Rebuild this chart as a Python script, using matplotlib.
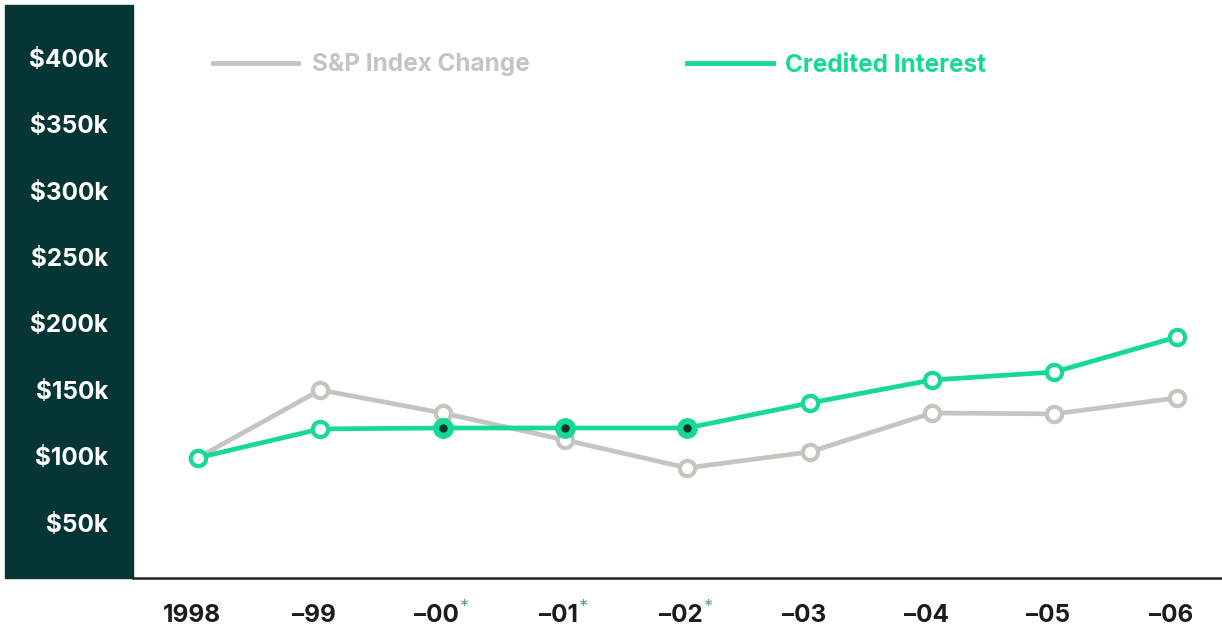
import matplotlib
matplotlib.use("Agg")
import matplotlib.pyplot as plt
from matplotlib.lines import Line2D
from matplotlib.patches import Rectangle
from matplotlib.transforms import ScaledTranslation

years = ["1998", "\u201399", "\u201300", "\u201301", "\u201302", "\u201303", "\u201304", "\u201305", "\u201306"]
starred = [False, False, True, True, True, False, False, False, False]
sp_index = [99, 150, 132.7, 112.4, 91.4, 103.4, 132.7, 132, 144]
credited = [99, 120.7, 121.4, 121.4, 121.4, 140.2, 157.5, 163.5, 189.8]
credited_flag = [False, False, True, True, True, False, False, False, False]
yticks = [50, 100, 150, 200, 250, 300, 350, 400]
ytick_labels = ["$50k", "$100k", "$150k", "$200k", "$250k", "$300k", "$350k", "$400k"]

GRAY = "#c5c5bf"
GREEN = "#16d994"
DARK = "#063536"
TXT = "#1c1c1c"
FONT = ["Inter", "DejaVu Sans"]
plt.rcParams['font.family'] = FONT
FS = 17.5

W, H = 1222, 628
fig = plt.figure(figsize=(W / 100, H / 100), dpi=100)

# dark panel
fig.add_artist(Rectangle((5 / W, 1 - 578 / H), 128 / W, 573 / H,
                         transform=fig.transFigure, color=DARK, zorder=0))

ax = fig.add_axes([133 / W, 1 - 578 / H, 1089 / W, 573 / H])
ax.set_facecolor("none")
x = list(range(len(years)))
ax.set_xlim(-0.53, 8.37)
ax.set_ylim(8.6, 439.5)

ax.plot(x, sp_index, color=GRAY, lw=3.4, marker="o", ms=11, mfc="white",
        mec=GRAY, mew=3, zorder=3, solid_joinstyle="round")
ax.plot(x, credited, color=GREEN, lw=3.4, zorder=4, solid_joinstyle="round")
for xi, yi, f in zip(x, credited, credited_flag):
    if f:
        ax.plot([xi], [yi], marker="o", ms=14, mfc=GREEN, mec=GREEN, zorder=5)
        ax.plot([xi], [yi], marker="o", ms=5, mfc=DARK, mec=DARK, zorder=6)
    else:
        ax.plot([xi], [yi], marker="o", ms=11, mfc="white", mec=GREEN, mew=3, zorder=5)

for s in ["top", "right", "left"]:
    ax.spines[s].set_visible(False)
ax.spines["bottom"].set_color("#222222")
ax.spines["bottom"].set_linewidth(1.8)

ax.set_yticks(yticks)
ax.set_yticklabels(ytick_labels, fontsize=FS, fontweight="bold", color="white")
ax.tick_params(axis="y", length=0, pad=18)
ax.set_xticks(x)
ax.set_xticklabels(years, fontsize=FS, fontweight="bold", color=TXT)
ax.tick_params(axis="x", length=0, pad=19)
shift = ScaledTranslation(-6 / 100, 0, fig.dpi_scale_trans)
for lab in ax.get_xticklabels():
    lab.set_transform(lab.get_transform() + shift)

fig.canvas.draw()
renderer = fig.canvas.get_renderer()
for lab, st in zip(ax.get_xticklabels(), starred):
    if st:
        bb = lab.get_window_extent(renderer)
        fig.text((bb.x1 + 1) / W, (bb.y1 + 5) / H, "*", fontsize=13,
                 color="#5e9a9a", ha="left", va="top")

# legend
ly = 1 - 63 / H
fig.add_artist(Line2D([213 / W, 298 / W], [ly, ly], color=GRAY, lw=3.5,
                      transform=fig.transFigure))
fig.text(312 / W, ly - 2 / H, "S&P Index Change", color=GRAY, fontsize=FS,
         fontweight="bold", va="center", ha="left")
fig.add_artist(Line2D([687 / W, 773 / W], [ly, ly], color=GREEN, lw=3.5,
                      transform=fig.transFigure))
fig.text(785 / W, ly - 2 / H, "Credited Interest", color=GREEN, fontsize=FS,
         fontweight="bold", va="center", ha="left")

fig.savefig("out.png", dpi=100)
